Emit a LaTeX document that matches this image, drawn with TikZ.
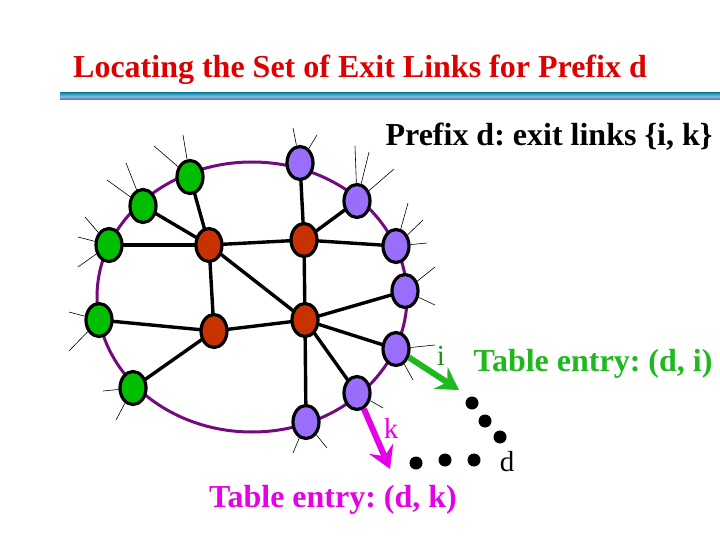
\documentclass[tikz,border=0pt]{standalone}
\usepackage{fontspec}
\setmainfont{Liberation Serif}
\usetikzlibrary{arrows.meta,shapes.geometric,backgrounds}
\frenchspacing
\definecolor{ngreen}{RGB}{0,190,0}
\definecolor{npurple}{RGB}{153,110,250}
\definecolor{nred}{RGB}{200,50,0}
\definecolor{ring}{RGB}{115,10,125}
\definecolor{titlered}{RGB}{220,0,0}
\definecolor{agreen}{RGB}{30,185,30}
\definecolor{amag}{RGB}{230,0,230}
\definecolor{ruleteal}{RGB}{30,140,170}
\definecolor{rulemid}{RGB}{120,200,230}
\definecolor{rulepur}{RGB}{160,50,200}
\tikzset{
  nd/.style={ellipse,draw=black,line width=3.2pt,minimum width=26pt,minimum height=33pt,inner sep=0pt},
  gn/.style={nd,fill=ngreen},
  pn/.style={nd,fill=npurple},
  rn/.style={nd,fill=nred},
  link/.style={line width=3.4pt,black},
  spoke/.style={line width=0.6pt,black},
  dotn/.style={circle,fill=black,minimum size=13pt,inner sep=0pt},
  lbl/.style={font=\fontsize{29}{32}\selectfont,inner sep=0pt},
  big/.style={font=\fontsize{32}{36}\selectfont\bfseries,inner sep=0pt},
}
\begin{document}
\begin{tikzpicture}[x=1pt,y=-1pt]
\useasboundingbox (0,0) rectangle (720,540);
% title
\node[big,text=titlered] (title) at (360,70) {Locating the Set of Exit Links for Prefix d};
\shade[top color=ruleteal,bottom color=rulepur,middle color=rulemid] (60,93) rectangle (720,100);
% nodes
\node[gn] (g1) at (190,177) {};
\node[gn] (g2) at (143,206) {};
\node[gn] (g3) at (109,245) {};
\node[gn] (g4) at (99,320) {};
\node[gn] (g5) at (133,388) {};
\node[pn] (p1) at (300,163) {};
\node[pn] (p2) at (357,201) {};
\node[pn] (p3) at (396,246) {};
\node[pn] (p4) at (405,291) {};
\node[pn] (p5) at (396,349) {};
\node[pn] (p6) at (357,393) {};
\node[pn] (p7) at (306,422) {};
\node[rn] (r1) at (209,245) {};
\node[rn] (r2) at (304,240) {};
\node[rn] (r3) at (214,331) {};
\node[rn] (r4) at (305,320) {};
% spoke ends
\foreach \n/\x/\y in {sa1/183/135,sa2/154/146,sb1/126/163,sb2/107/180,sc1/85/217,sc2/78/237,sc3/78/267,
  sd1/69/312,sd2/69/351,se1/103/391,se2/116/420,
  sf1/293/128,sf2/317/135,sg1/355/146,sg2/369/152,sg3/394/169,sh1/408/203,sh2/423/220,sh3/427/243,
  si1/435/267,si2/435/305,sj1/435/345,sj2/413/380,sk1/383/408,sl1/293/453,sl2/327/448}
  \coordinate (\n) at (\x,\y);
\begin{scope}[on background layer]
% ring
\draw[ring,line width=3pt] (252,297) ellipse [x radius=155pt,y radius=135pt];
% links
\foreach \a/\b in {g1/r1,g2/r1,g3/r1,r1/r2,r1/r3,r1/r4,p1/r2,p2/r2,p3/r2,r2/r4,p4/r4,g4/r3,g5/r3,r3/r4,r4/p5,r4/p6,r4/p7}
  \draw[link] (\a.center) -- (\b.center);
\end{scope}
\foreach \a/\b in {g1/sa1,g1/sa2,g2/sb1,g2/sb2,g3/sc1,g3/sc2,g3/sc3,g4/sd1,g4/sd2,g5/se1,g5/se2,
  p1/sf1,p1/sf2,p2/sg1,p2/sg2,p2/sg3,p3/sh1,p3/sh2,p3/sh3,p4/si1,p4/si2,p5/sj1,p5/sj2,p6/sk1,p7/sl1,p7/sl2}
  \draw[spoke] (\a) -- (\b);
% arrows
\coordinate (ai) at (459,390);
\coordinate (ak) at (390,469);
\draw[agreen,line width=6pt,-{Stealth[length=22pt,width=26pt,inset=8pt]}] (p5) -- (ai);
\draw[amag,line width=6pt,-{Stealth[length=22pt,width=26pt,inset=8pt]}] (p6) -- (ak);
% dots
\node[dotn] (d1) at (472,403) {};
\node[dotn] (d2) at (485,421) {};
\node[dotn] (d3) at (500,437) {};
\node[dotn] (d4) at (416,463) {};
\node[dotn] (d5) at (445,460) {};
\node[dotn] (d6) at (474,460) {};
% labels
\node[lbl,text=agreen!80!black] (li) at (441,356) {i};
\node[lbl,text=amag] (lk) at (391,428) {k};
\node[lbl] (ld) at (507,462) {d};
\node[big] (pref) at (549,137) {Prefix d: exit links \{i, k\}};
\node[big,text=agreen] (tei) at (593,364) {Table entry: (d, i)};
\node[big,text=amag] (tek) at (333,500) {Table entry: (d, k)};
\end{tikzpicture}
\end{document}
